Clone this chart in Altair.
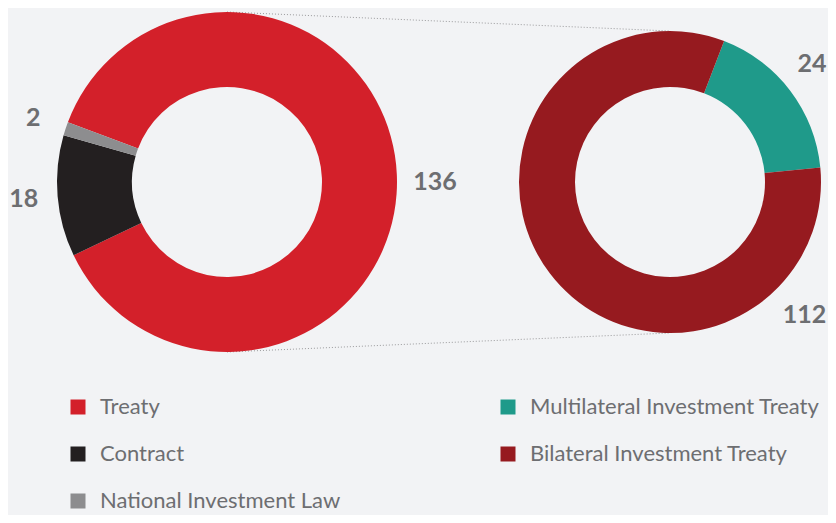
import altair as alt
import pandas as pd
import math

# ---- data ----
left_cats = ["Treaty", "Contract", "National Investment Law"]
left_vals = [136, 18, 2]
right_cats = ["Multilateral Investment Treaty", "Bilateral Investment Treaty"]
right_vals = [24, 112]

legend_order = ["Treaty", "Contract", "National Investment Law",
                "Multilateral Investment Treaty", "Bilateral Investment Treaty"]
legend_colors = ["#d3202a", "#231f20", "#8d8d8f", "#1f9a8a", "#961a1f"]

# ---- geometry / style ----
BG = "#f2f3f5"
TXT = "#6d6e71"
FONT = "Lato"
LCX, LCY, LRO, LRI = 219, 174, 170, 95
RCX, RCY, RRO, RRI = 662, 174, 151, 95
L_START = math.radians(-69.4)
R_START = math.radians(21)

left_df = pd.DataFrame({"cat": left_cats, "value": left_vals, "ord": range(len(left_cats))})
right_df = pd.DataFrame({"cat": right_cats, "value": right_vals, "ord": range(len(right_cats))})

color = alt.Color(
    "cat:N",
    scale=alt.Scale(domain=legend_order, range=legend_colors),
    legend=alt.Legend(
        title=None, orient="none", legendX=59, legendY=388, columns=2,
        symbolType="square", symbolSize=225, symbolStrokeWidth=0,
        labelFontSize=22, labelFont=FONT, labelColor=TXT, labelOffset=11,
        rowPadding=25, columnPadding=156, labelLimit=400,
    ),
)

left_theta = alt.Theta("value:Q", stack=True,
                       scale=alt.Scale(range=[L_START, L_START + 2 * math.pi]))
right_theta = alt.Theta("value:Q", stack=True,
                        scale=alt.Scale(range=[R_START, R_START + 2 * math.pi]))

num_style = dict(font=FONT, fontSize=25, fontWeight="bold", color=TXT)

left_arc = alt.Chart(left_df).mark_arc(outerRadius=LRO, innerRadius=LRI).encode(
    theta=left_theta, color=color, order=alt.Order("ord:Q"),
    x=alt.value(LCX), y=alt.value(LCY),
)
left_text = alt.Chart(left_df).transform_calculate(
    label="datum.cat === 'Treaty' ? '' : datum.value"
).mark_text(radius=204, **num_style).encode(
    theta=left_theta, order=alt.Order("ord:Q"), text="label:N",
    x=alt.value(LCX), y=alt.value(LCY),
)
left_text_main = alt.Chart(left_df).transform_filter(
    "datum.cat === 'Treaty'"
).mark_text(**num_style).encode(
    text="value:Q", theta=alt.value(math.radians(90)), radius=alt.value(208),
    x=alt.value(LCX), y=alt.value(LCY),
)
left = alt.layer(left_arc, left_text, left_text_main)

right_arc = alt.Chart(right_df).mark_arc(outerRadius=RRO, innerRadius=RRI).encode(
    theta=right_theta, color=color, order=alt.Order("ord:Q"),
    x=alt.value(RCX), y=alt.value(RCY),
)
right_text_multi = alt.Chart(right_df).transform_filter(
    "datum.cat === 'Multilateral Investment Treaty'"
).mark_text(**num_style).encode(
    text="value:Q", theta=alt.value(math.radians(50.3)), radius=alt.value(184.5),
    x=alt.value(RCX), y=alt.value(RCY),
)
right_text_bi = alt.Chart(right_df).transform_filter(
    "datum.cat === 'Bilateral Investment Treaty'"
).mark_text(**num_style).encode(
    text="value:Q", theta=alt.value(math.radians(134.6)), radius=alt.value(189),
    x=alt.value(RCX), y=alt.value(RCY),
)
right = alt.layer(right_arc, right_text_multi, right_text_bi)

one = alt.Data(values=[{}])
rule_style = dict(color="#9a9a9c", strokeDash=[1, 2], strokeWidth=1)
top_rule = alt.Chart(one).mark_rule(**rule_style).encode(
    x=alt.value(LCX), y=alt.value(LCY - LRO), x2=alt.value(RCX), y2=alt.value(RCY - RRO)
)
bot_rule = alt.Chart(one).mark_rule(**rule_style).encode(
    x=alt.value(LCX), y=alt.value(LCY + LRO), x2=alt.value(RCX), y2=alt.value(RCY + RRO)
)

chart = alt.layer(top_rule, bot_rule, left, right).resolve_scale(
    theta="independent"
).properties(
    width=820, height=507, padding=0, background=BG,
    autosize=alt.AutoSizeParams(type="none"),
).configure_view(stroke=None)

chart.save("out.html", embed_options={"renderer": "svg", "actions": False})
